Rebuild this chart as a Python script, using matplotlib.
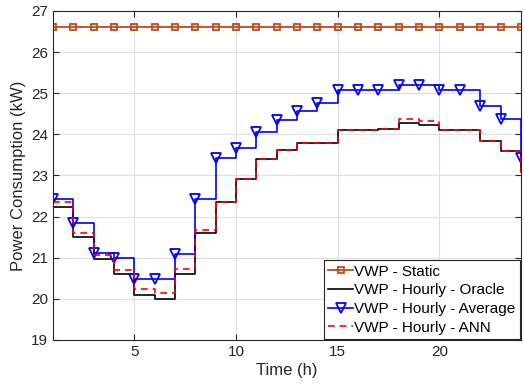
import numpy as np
import matplotlib
matplotlib.use("Agg")
import matplotlib.pyplot as plt

plt.rcParams["font.family"] = ["Liberation Sans", "DejaVu Sans"]

# 시간 (h)
hours = np.arange(1, 25)

# 전력 소비 (kW)
static = [26.62] * 24
oracle = [22.24, 21.50, 20.97, 20.59, 20.10, 19.99, 20.59, 21.60, 22.35, 22.92,
          23.41, 23.63, 23.80, 23.80, 24.10, 24.10, 24.12, 24.27, 24.22, 24.10,
          24.10, 23.84, 23.59, 23.10]
average = [22.43, 21.84, 21.11, 21.00, 20.49, 20.49, 21.10, 22.43, 23.42, 23.66,
           24.05, 24.36, 24.57, 24.75, 25.07, 25.07, 25.07, 25.20, 25.20, 25.07,
           25.07, 24.69, 24.37, 23.42]
ann = [22.35, 21.60, 21.07, 20.70, 20.24, 20.13, 20.72, 21.67, 22.35, 22.92,
       23.41, 23.63, 23.80, 23.80, 24.10, 24.10, 24.12, 24.38, 24.33, 24.10,
       24.10, 23.84, 23.59, 23.05]

fig = plt.figure(figsize=(5.24, 3.92), dpi=100)
ax = fig.add_axes([0.101, 0.133, 0.893, 0.839])

ax.plot(hours, static, color="#c04a1a", lw=1.3, marker="s", ms=5,
        mfc="none", mew=1.3, drawstyle="steps-post", label="VWP - Static")
ax.plot(hours, oracle, color="black", lw=1.2, drawstyle="steps-post",
        label="VWP - Hourly - Oracle")
ax.plot(hours, average, color="blue", lw=1.2, marker="v", ms=6.5,
        mfc="none", mew=1.3, drawstyle="steps-post", label="VWP - Hourly - Average")
ax.plot(hours, ann, color="red", lw=1.2, ls=(0, (4, 3)), drawstyle="steps-post",
        label="VWP - Hourly - ANN")

ax.set_xlim(1, 24)
ax.set_ylim(19, 27)
ax.set_xticks([5, 10, 15, 20])
ax.set_yticks(range(19, 28))
ax.grid(True, color="#e0e0e0", lw=0.8)
ax.set_axisbelow(True)
ax.tick_params(direction="in", top=True, right=True, labelsize=11, length=4,
               color="#262626", labelcolor="#262626")
for s in ax.spines.values():
    s.set_color("#262626")
    s.set_linewidth(0.8)

ax.set_xlabel("Time (h)", fontsize=12, color="#262626", labelpad=3)
ax.set_ylabel("Power Consumption (kW)", fontsize=12, color="#262626", labelpad=4)

leg = ax.legend(loc="lower right", fontsize=11, handlelength=1.6, handletextpad=0.1,
                borderaxespad=0.05, borderpad=0.3, labelspacing=0.3,
                fancybox=False, framealpha=1, edgecolor="#262626")
leg.get_frame().set_linewidth(0.8)

fig.savefig("out.png", dpi=100)
